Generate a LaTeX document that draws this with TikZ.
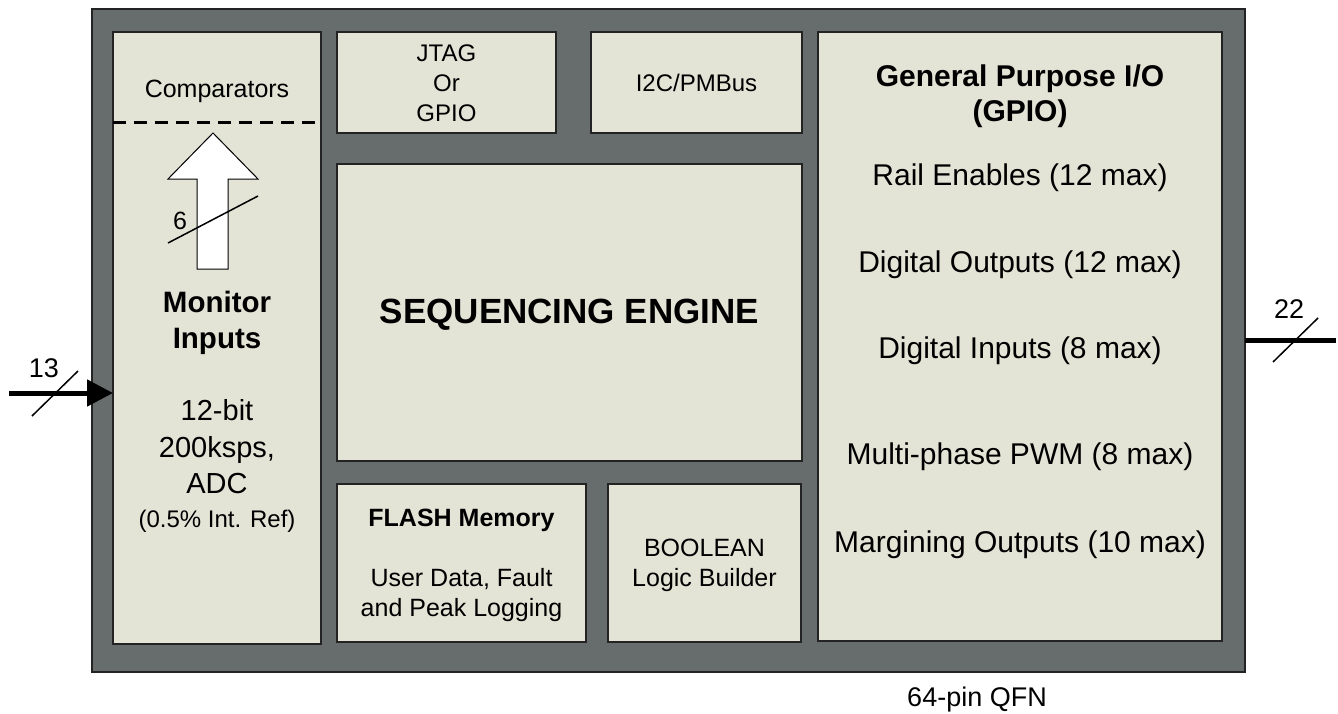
\documentclass[tikz,border=0pt]{standalone}
\usepackage{fontspec}
\setmainfont{Liberation Sans}
\usetikzlibrary{arrows.meta}
\definecolor{chipgrey}{RGB}{103,108,108}
\definecolor{blockfill}{RGB}{227,228,214}
\definecolor{edgecol}{RGB}{35,35,35}
\begin{document}
\begin{tikzpicture}[x=1pt,y=-1pt,
  chip/.style={draw=edgecol, line width=1.5pt, fill=chipgrey, anchor=north west, inner sep=0pt, outer sep=0pt},
  block/.style={draw=edgecol, line width=1.2pt, fill=blockfill, anchor=north west, inner sep=0pt, outer sep=0pt},
  txt/.style={anchor=base, inner sep=0pt, outer sep=0pt, text=black},
  fs24/.style={font=\fontsize{24}{29}\selectfont},
  fs25/.style={font=\fontsize{25}{30}\selectfont},
  fs25b/.style={font=\fontsize{25}{30}\selectfont\bfseries},
  fs27/.style={font=\fontsize{27}{32}\selectfont},
  fs29b/.style={font=\fontsize{29.5}{35}\selectfont\bfseries},
  fs29/.style={font=\fontsize{29}{35}\selectfont},
  fs30/.style={font=\fontsize{30}{36}\selectfont},
  fs30b/.style={font=\fontsize{30}{36}\selectfont\bfseries},
  fs34b/.style={font=\fontsize{35}{41}\selectfont\bfseries},
  thinline/.style={line width=1.5pt, draw=black},
  busline/.style={line width=5pt, draw=black}
]
\useasboundingbox (0,0) rectangle (1338,713);

% chip body
\node[chip, minimum width=1153pt, minimum height=663pt] (chip) at (92,9) {};

% blocks
\node[block, minimum width=208pt, minimum height=612pt] (mon) at (113,32) {};
\node[block, minimum width=219pt, minimum height=101pt] (jtag) at (337,32) {};
\node[block, minimum width=211pt, minimum height=101pt] (i2c) at (591,32) {};
\node[block, minimum width=465pt, minimum height=297pt] (seq) at (337,164) {};
\node[block, minimum width=249pt, minimum height=158pt] (flash) at (337,484) {};
\node[block, minimum width=193pt, minimum height=158pt] (bool) at (608,484) {};
\node[block, minimum width=404pt, minimum height=609pt] (gpio) at (818,32) {};

% comparators divider
\draw[line width=3pt, dash pattern=on 13pt off 8pt] (mon.west |- 0,122) -- (mon.east |- 0,122);
\node[txt, fs25] (comp) at (217,97) {Comparators};

% internal block arrow
\draw[fill=white, draw=black, line width=1pt]
  (213,133) -- (258,179) -- (228,179) -- (228,269) -- (197,269) -- (197,179) -- (168,179) -- cycle;
\draw[thinline] (168,243) -- (258,196);
\node[txt, fs25] (six) at (180,229) {6};

% monitor text
\node[txt, fs29b] (monA) at (217,312) {Monitor};
\node[txt, fs29b] (monB) at (217,348) {Inputs};
\node[txt, fs29] (monC) at (217,420) {12-bit};
\node[txt, fs29] (monD) at (217,457) {200ksps,};
\node[txt, fs29] (monE) at (217,493) {ADC};
\node[txt, fs24] (monF) at (217,527) {(0.5\% Int. Ref)};

% JTAG / I2C
\node[txt, fs24] (jtagA) at (446.5,61) {JTAG};
\node[txt, fs24] (jtagB) at (446.5,91) {Or};
\node[txt, fs24] (jtagC) at (446.5,121) {GPIO};
\node[txt, fs24] (i2cA) at (696.5,91) {I2C/PMBus};

% sequencing engine
\node[txt, fs34b] (seqA) at (569.5,323) {SEQUENCING ENGINE};

% flash
\node[txt, fs25b] (flashA) at (461.5,526) {FLASH Memory};
\node[txt, fs25] (flashB) at (461.5,586) {User Data, Fault};
\node[txt, fs25] (flashC) at (461.5,616) {and Peak Logging};

% boolean
\node[txt, fs25] (boolA) at (704.5,556) {BOOLEAN};
\node[txt, fs25] (boolB) at (704.5,586) {Logic Builder};

% GPIO
\node[txt, fs30b] (gpA) at (1020,86) {General Purpose I/O};
\node[txt, fs30b] (gpB) at (1020,121) {(GPIO)};
\node[txt, fs30] (gpC) at (1020,185) {Rail Enables (12 max)};
\node[txt, fs30] (gpD) at (1020,272) {Digital Outputs (12 max)};
\node[txt, fs30] (gpE) at (1020,358) {Digital Inputs (8 max)};
\node[txt, fs30] (gpF) at (1020,464) {Multi-phase PWM (8 max)};
\node[txt, fs30] (gpG) at (1020,552) {Margining Outputs (10 max)};

% input bus
\coordinate (inL) at (9,393);
\draw[busline, -{Triangle[length=26pt,width=26pt]}] (inL) -- (inL -| mon.west);
\draw[thinline] (32,416) -- (78,371);
\node[txt, fs27] (n13) at (44,377) {13};

% output bus
\coordinate (outR) at (1336,340);
\draw[busline] (outR -| chip.east) -- (outR);
\draw[thinline] (1273,362) -- (1318,318);
\node[txt, fs27] (n22) at (1289,318) {22};

% package label
\node[txt, fs27] (pkg) at (977,706) {64-pin QFN};
\end{tikzpicture}
\end{document}
